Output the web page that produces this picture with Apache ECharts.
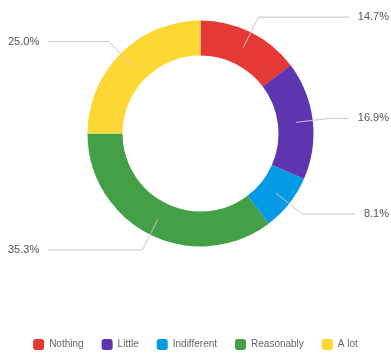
<!DOCTYPE html>
<html>
<head>
<meta charset="utf-8">
<script src="https://cdn.jsdelivr.net/npm/echarts@6/dist/echarts.min.js"></script>
<style>
	html, body { margin: 0; padding: 0; background: #fff; }
	#chart { width: 391px; height: 354px; }
</style>
</head>
<body>
<div id="chart"></div>
<script>
var categories = ['Nothing', 'Little', 'Indifferent', 'Reasonably', 'A lot'];
var shares = [14.7, 16.9, 8.1, 35.3, 25.0];
var colors = ['#e53935', '#5e35b1', '#039be5', '#43a047', '#fdd835'];

var myChart = echarts.init(document.getElementById('chart'));

var ringData = [];
var labelData = [];
for (var i = 0; i < categories.length; i++) {
	ringData.push({ name: categories[i], value: shares[i], itemStyle: { color: colors[i] } });
	labelData.push({ name: categories[i], value: shares[i] });
}

// both pies share the same layout box so the centers line up
var pieBox = { left: 6, width: 385, top: 0, height: 354 };
var pieCenter = ['50.52%', '37.71%'];

var option = {
	animation: false,
	color: colors,
	legend: {
		bottom: -1,
		left: 'center',
		itemWidth: 11,
		itemHeight: 11,
		itemGap: 18,
		icon: 'roundRect',
		textStyle: { fontSize: 10, color: '#666', fontFamily: 'Liberation Sans' },
		data: categories
	},
	series: [{
		type: 'pie',
		left: pieBox.left, width: pieBox.width, top: pieBox.top, height: pieBox.height,
		radius: [78, 113],
		center: pieCenter,
		silent: true,
		label: { show: false },
		labelLine: { show: false },
		data: ringData
	}, {
		type: 'pie',
		left: pieBox.left, width: pieBox.width, top: pieBox.top, height: pieBox.height,
		radius: [0, 96],
		center: pieCenter,
		silent: true,
		z: 3,
		itemStyle: { color: 'rgba(0,0,0,0)' },
		label: {
			alignTo: 'edge',
			edgeDistance: 2,
			distanceToLabelLine: 9,
			fontSize: 11,
			color: '#555',
			fontFamily: 'Liberation Sans',
			formatter: function (p) { return p.value.toFixed(1) + '%'; }
		},
		labelLine: {
			length: 34,
			length2: 10,
			lineStyle: { color: '#c8c8c8', width: 1 }
		},
		data: labelData
	}]
};

myChart.setOption(option);
</script>
</body>
</html>
